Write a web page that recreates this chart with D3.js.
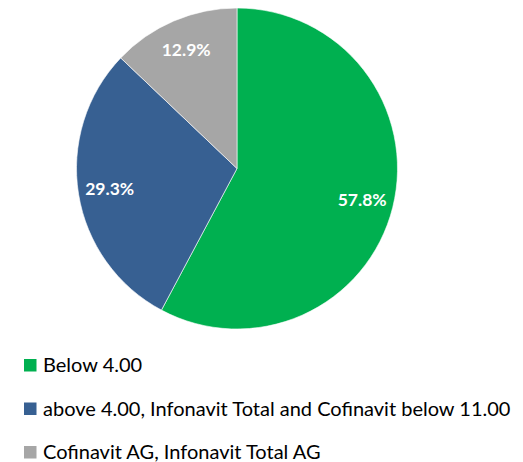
<!DOCTYPE html>
<meta charset="utf-8">
<script src="https://d3js.org/d3.v7.min.js"></script>
<style>
  body { margin: 0; background: #fff; }
  text { font-family: Lato, "Open Sans", "Liberation Sans", sans-serif; }
</style>
<div id="chart"></div>
<script>

// data
var categories = ["Below 4.00",
                  "above 4.00, Infonavit Total and Cofinavit below 11.00",
                  "Cofinavit AG, Infonavit Total AG"];
var shares = [57.8, 29.3, 12.9];
var colors = ["#00b050", "#376092", "#a6a6a6"];

var W = 523, H = 462;
var cx = 237, cy = 168.5, r = 160.5;

var svg = d3.select("#chart").append("svg")
    .attr("width", W)
    .attr("height", H);

var pie = d3.pie().sort(null).value(function(d) { return d; });
var arcs = pie(shares);

var arc = d3.arc().innerRadius(0).outerRadius(r);
var labelArc = d3.arc().innerRadius(129).outerRadius(129);

var g = svg.append("g")
    .attr("transform", "translate(" + cx + "," + cy + ")");

g.selectAll("path")
  .data(arcs)
  .enter().append("path")
    .attr("d", arc)
    .style("fill", function(d, i) { return colors[i]; })
    .style("stroke", "#fff")
    .style("stroke-width", 0.6);

g.selectAll("text.lbl")
  .data(arcs)
  .enter().append("text")
    .attr("class", "lbl")
    .attr("transform", function(d) { return "translate(" + labelArc.centroid(d) + ")"; })
    .attr("text-anchor", "middle")
    .attr("dy", "0.36em")
    .style("fill", "#fff")
    .style("font-weight", "bold")
    .style("font-size", "17.5px")
    .text(function(d) { return d.value.toFixed(1) + "%"; });

// legend
var legend = svg.selectAll("g.leg")
  .data(categories)
  .enter().append("g")
    .attr("class", "leg")
    .attr("transform", function(d, i) { return "translate(24," + (359 + i * 43.5) + ")"; });

legend.append("rect")
    .attr("width", 12.5)
    .attr("height", 12.5)
    .style("fill", function(d, i) { return colors[i]; });

legend.append("text")
    .attr("x", 19)
    .attr("y", 13)
    .style("font-size", "20px")
    .style("fill", "#000")
    .text(function(d) { return d; });

</script>
